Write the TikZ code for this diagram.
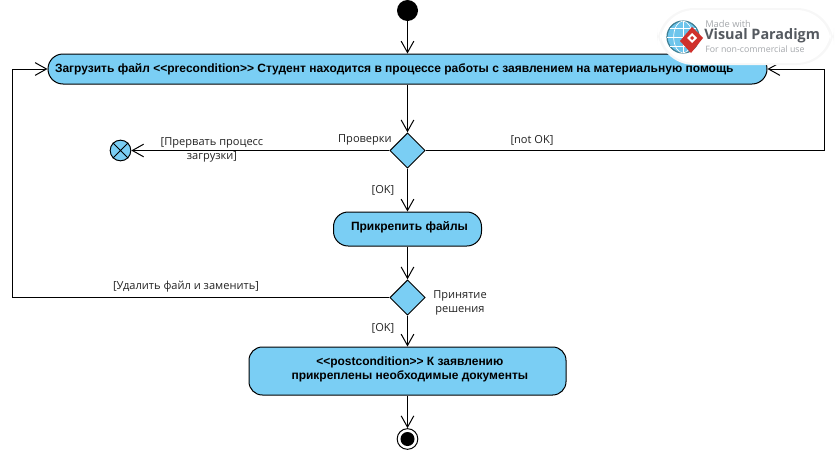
\documentclass[tikz,border=0pt]{standalone}
\usepackage{fontspec}
\setmainfont{Liberation Sans}
\newfontfamily\labelfont{Open Sans}
\usetikzlibrary{arrows.meta,positioning,calc,shapes.geometric}
\definecolor{ink}{HTML}{000000}
\definecolor{muted}{HTML}{222222}
\definecolor{panel}{HTML}{7ACEF4}
\definecolor{badge}{HTML}{555A60}
\definecolor{badgelight}{HTML}{A5A8AC}
\definecolor{badgered}{HTML}{D0312D}
\definecolor{globeblue}{HTML}{6DC5EC}
\definecolor{globeline}{HTML}{3F7F93}

\begin{document}
\begin{tikzpicture}[
  x=0.75pt,
  y=-0.75pt,
  font=\labelfont\fontsize{8.3pt}{10.5pt}\selectfont,
  flow/.style={-{Straight Barb[length=8.5pt,width=9.5pt,line width=0.75pt]}, line width=0.75pt, draw=ink},
  stage/.style={
    draw=ink,
    fill=panel,
    line width=0.75pt,
    align=center,
    inner sep=0pt,
    font=\rmfamily\bfseries\fontsize{9pt}{10.5pt}\selectfont
  },
  choice/.style={
    diamond,
    draw=ink,
    fill=panel,
    line width=0.75pt,
    inner sep=0pt,
    minimum width=26.5pt,
    minimum height=26.5pt
  },
  tag/.style={text=muted, align=center, inner sep=0pt},
  startdot/.style={circle, fill=ink, inner sep=0pt, minimum size=15.75pt},
  flowend/.style={circle, draw=ink, fill=panel, line width=0.75pt, inner sep=0pt, minimum size=15.5pt},
  enddot/.style={circle, draw=ink, fill=white, line width=0.75pt, inner sep=0pt, minimum size=15.5pt}
]

\path[use as bounding box] (0,0) rectangle (839,450);

\node[startdot] (start) at (407.5,10.5) {};
\node[stage, rounded corners=11.25pt, minimum width=539.25pt, minimum height=22.5pt, align=flush left, text width=528.75pt, inner xsep=5.25pt] (upload) at (407.5,69)
  {Загрузить файл <{}<precondition>{}> Студент находится в процессе работы с заявлением на материальную помощь};
\node[choice] (check) at (407.5,150.5) {};
\node[flowend] (abort) at (120.5,150.5) {};
\node[stage, rounded corners=11pt, minimum width=111pt, minimum height=25.5pt, text depth=4.5pt] (attach) at (407.5,229) {\hspace*{3pt}Прикрепить файлы};
\node[choice] (decide) at (407.5,297.5) {};
\node[stage, rounded corners=10pt, minimum width=237.75pt, minimum height=36pt, text depth=4pt] (result) at (407.5,371)
  {\hspace*{3.5pt}<{}<postcondition>{}> К заявлению\\\hspace*{3.5pt}прикреплены необходимые документы};
\node[enddot] (finish) at (407.5,439) {};
\node[circle, fill=ink, inner sep=0pt, minimum size=10.5pt] (finishdot) at (finish.center) {};

\draw[ink, line width=0.75pt] (abort.45) -- (abort.225) (abort.135) -- (abort.315);

\coordinate (leftturn) at (12.5,297.5);
\coordinate (rightturn) at (824.5,150.5);

\draw[flow] (start) -- (upload);
\draw[flow] (upload) -- (check);
\draw[flow] (check) -- (attach);
\draw[flow] (check.west) -- (abort.east);
\draw[flow] (attach) -- (decide);
\draw[flow] (decide) -- (result);
\draw[flow] (result) -- (finish);
\draw[flow] (decide.west) -- (leftturn) -- (leftturn |- upload.west) -- (upload.west);
\draw[flow] (check.east) -- (rightturn) -- (rightturn |- upload.east) -- (upload.east);

\node[tag, anchor=east] (checklabel) at (392,140) {Проверки};
\node[tag] (abortlabel) at (212,150) {[Прервать процесс\\загрузки]};
\node[tag] (notok) at (532,140) {[not OK]};
\node[tag] (okfirst) at (383,190) {[OK]};
\node[tag] (replace) at (186,287) {[Удалить файл и заменить]};
\node[tag] (decidelabel) at (460,303) {Принятие\\решения};
\node[tag] (oksecond) at (383,328) {[OK]};

\fill[black!3, rounded corners=28pt] (657,8) rectangle (834,65);
\fill[white, rounded corners=26pt] (660,10) rectangle (831,63);
\fill[globeblue] (683,37) circle (12pt);
\draw[globeline, line width=0.9pt] (683,37) circle (12pt);
\draw[white, line width=0.5pt] (667,37) -- (699,37) (670,28) -- (696,28) (670,46) -- (696,46) (683,21) -- (683,53);
\draw[white, line width=0.5pt] (683,37) ellipse (7pt and 12pt);
\fill[badgered] (692,27) -- (703,38) -- (691,53) -- (680,41) -- cycle;
\fill[white] (692,33) -- (697,38) -- (692,43) -- (687,38) -- cycle;
\fill[badgered] (692,36) -- (694,38) -- (692,40) -- (690,38) -- cycle;
\node[anchor=west, inner sep=0pt, text=badgelight, font=\labelfont\fontsize{7pt}{8pt}\selectfont] (madewith) at (705,24) {Made with};
\node[anchor=west, inner sep=0pt, text=badge, font=\labelfont\bfseries\fontsize{10.8pt}{12pt}\selectfont] (vpname) at (704,35.5) {Visual Paradigm};
\node[anchor=west, inner sep=0pt, text=badgelight, font=\labelfont\fontsize{6.6pt}{8pt}\selectfont] (vpuse) at (705,49) {For non-commercial use};

\end{tikzpicture}
\end{document}
